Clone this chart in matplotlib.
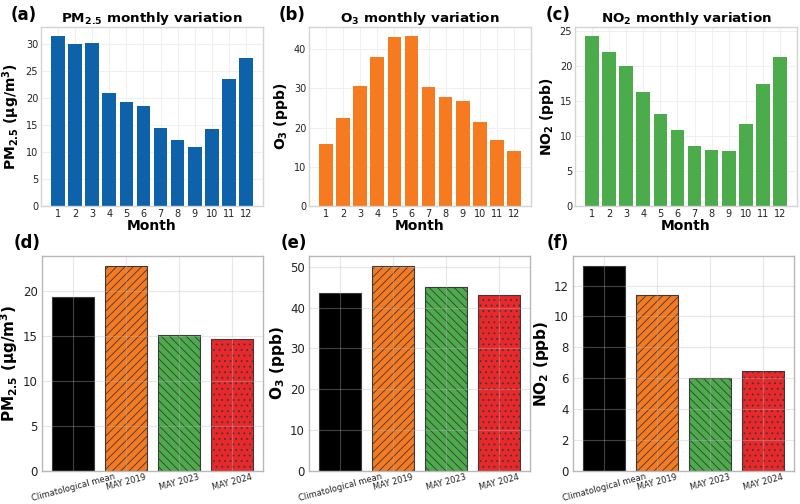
import matplotlib.pyplot as plt

# monthly means
months = list(range(1, 13))
pm25_monthly = [31.6, 30.1, 30.2, 20.9, 19.2, 18.5, 14.5, 12.2, 10.9, 14.2, 23.6, 27.5]
o3_monthly = [15.9, 22.5, 30.5, 38.0, 43.1, 43.5, 30.4, 27.8, 26.9, 21.4, 16.9, 14.1]
no2_monthly = [24.3, 22.0, 19.9, 16.2, 13.1, 10.9, 8.6, 7.95, 7.86, 11.65, 17.4, 21.2]

# May comparison
periods = ['Climatological mean', 'MAY 2019', 'MAY 2023', 'MAY 2024']
pm25_may = [19.3, 22.7, 15.1, 14.65]
o3_may = [43.5, 50.1, 45.1, 43.05]
no2_may = [13.25, 11.4, 6.0, 6.45]

blue = '#0d62a9'
orange = '#f57a20'
green = '#4cab4a'
red = '#e8282b'
period_colors = ['black', orange, green, red]
period_hatches = [None, '////', '\\\\\\\\', '...']

plt.rcParams['hatch.linewidth'] = 0.6

fig = plt.figure(figsize=(8, 5.04), dpi=100)


def rect(l, r, t, b):
    return [l / 800, 1 - b / 504, (r - l) / 800, (b - t) / 504]


def style(ax, spine_col):
    for s in ax.spines.values():
        s.set_color(spine_col)
        s.set_linewidth(1.0)
    ax.tick_params(length=0, colors='#222222')


top = [
    ('(a)', pm25_monthly, blue, r'PM$_{\mathbf{2.5}}$ monthly variation', r'PM$_{\mathbf{2.5}}$ ($\mathbf{\mu}$g/m$^{\mathbf{3}}$)', 41),
    ('(b)', o3_monthly, orange, r'O$_{\mathbf{3}}$ monthly variation', r'O$_{\mathbf{3}}$ (ppb)', 309),
    ('(c)', no2_monthly, green, r'NO$_{\mathbf{2}}$ monthly variation', r'NO$_{\mathbf{2}}$ (ppb)', 575),
]
for lab, vals, col, title, ylab, left in top:
    ax = fig.add_axes(rect(left, left + 222, 27, 206))
    ax.bar(months, vals, color=col, width=0.8, zorder=2)
    ax.set_xticks(months)
    ax.grid(True, color='#f0f0f0', linewidth=0.8, zorder=0)
    ax.set_axisbelow(True)
    style(ax, '#d4d4d4')
    ax.tick_params(labelsize=7, pad=2)
    ax.set_title(title, fontsize=9.7, fontweight='bold', pad=3)
    ax.set_ylabel(ylab, fontsize=10, fontweight='bold', labelpad=3)
    ax.set_xlabel('Month', fontsize=10, fontweight='bold', labelpad=0)
    fig.text((left - 17) / 800, 1 - 15 / 504, lab, fontsize=12, fontweight='bold',
             ha='center', va='center')

bottom = [
    ('(d)', pm25_may, r'PM$_{\mathbf{2.5}}$ ($\mathbf{\mu}$g/m$^{\mathbf{3}}$)', 42),
    ('(e)', o3_may, r'O$_{\mathbf{3}}$ (ppb)', 309),
    ('(f)', no2_may, r'NO$_{\mathbf{2}}$ (ppb)', 573),
]
for lab, vals, ylab, left in bottom:
    ax = fig.add_axes(rect(left, left + 221, 256, 471))
    x = list(range(len(periods)))
    for i in x:
        ax.bar(i, vals[i], width=0.8, color=period_colors[i], hatch=period_hatches[i],
               edgecolor='#3a3a3a', linewidth=0.8, zorder=2)
    ax.set_xticks(x)
    ax.set_xticklabels(periods, rotation=15, fontsize=6, ha='center')
    ax.grid(True, color='#bbbbbb', alpha=0.35, linewidth=0.8, zorder=3)
    ax.set_axisbelow(False)
    style(ax, '#b8b8b8')
    ax.tick_params(axis='y', labelsize=8.5, pad=3)
    ax.tick_params(axis='x', pad=1)
    ax.set_ylabel(ylab, fontsize=11, fontweight='bold', labelpad=2)
    fig.text((left - 15) / 800, 1 - 243 / 504, lab, fontsize=12, fontweight='bold',
             ha='center', va='center')

fig.savefig('out.png', dpi=100, facecolor='white')
